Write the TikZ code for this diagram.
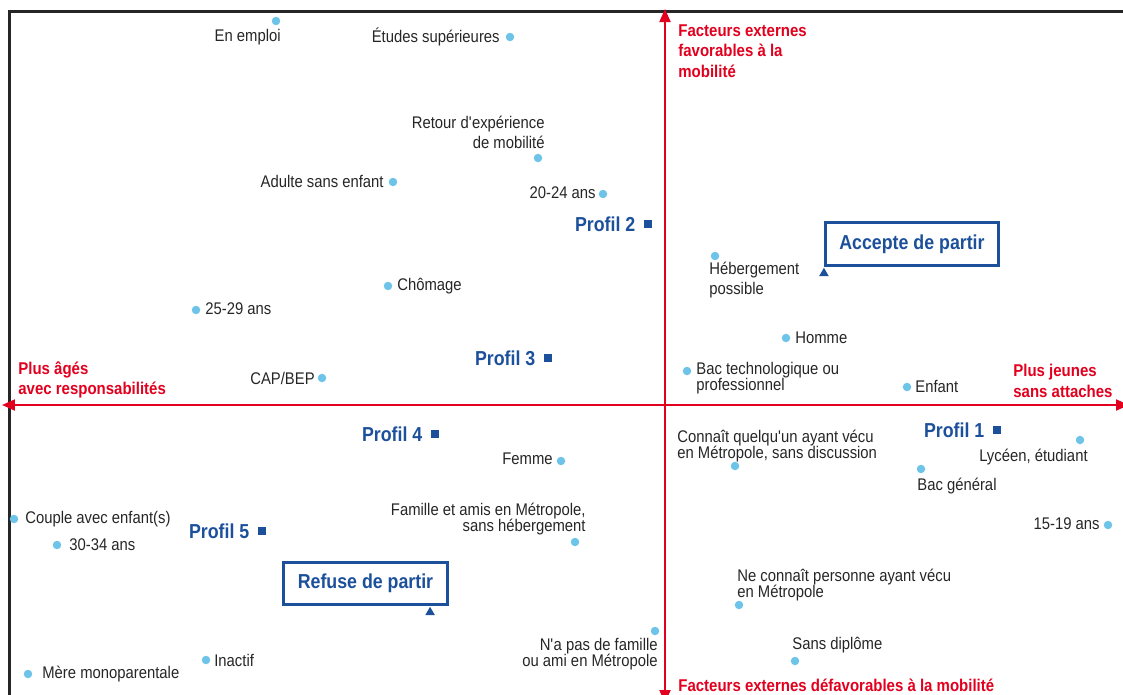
\documentclass[tikz,border=0pt]{standalone}
\usepackage{fontspec}
\setmainfont{Liberation Sans}[FakeStretch=0.88]
\usepackage{tikz}
\usetikzlibrary{arrows.meta,positioning,shapes.geometric}
\definecolor{AxisRed}{RGB}{226,0,30}
\definecolor{ProfBlue}{RGB}{28,80,155}
\definecolor{DotBlue}{RGB}{110,196,232}
\definecolor{LabelGray}{RGB}{38,38,38}

\begin{document}
\begin{tikzpicture}[
  x=0.02cm, y=-0.02cm,
  frame/.style={line width=1.4pt, black!85},
  axis/.style={{Triangle[length=0.26cm,width=0.22cm]}-{Triangle[length=0.26cm,width=0.22cm]}, line width=1.1pt, AxisRed},
  axlbl/.style={font=\fontsize{9.7}{11.8}\selectfont\bfseries, text=AxisRed, inner sep=0pt},
  pt/.style={circle, fill=DotBlue, minimum size=0.17cm, inner sep=0pt},
  lbl/.style={font=\fontsize{9.6}{9.4}\selectfont, text=LabelGray, inner sep=0pt},
  sq/.style={rectangle, fill=ProfBlue, minimum size=0.16cm, inner sep=0pt},
  prof/.style={font=\fontsize{11.5}{13}\selectfont\bfseries, text=ProfBlue, inner sep=0pt},
  verdict/.style={draw=ProfBlue, line width=1.8pt, fill=white, font=\fontsize{11.5}{13}\selectfont\bfseries, text=ProfBlue},
  tip/.style={regular polygon, regular polygon sides=3, fill=ProfBlue, minimum size=0.22cm, inner sep=0pt}
]
\useasboundingbox (0,0) rectangle (1123,694);
\draw[frame] (9.5,720) |- (1140,11.3);

\coordinate (west) at (2,405);
\coordinate (east) at (1129,405);
\coordinate (north) at (665,9);
\coordinate (south) at (665,703);
\draw[axis] (west) -- (east);
\draw[axis] (south) -- (north);

\node[axlbl, anchor=north west, align=left] (ax-fav) at (678,24) {Facteurs externes\\favorables à la\\mobilité};
\node[axlbl, anchor=west] (ax-defav) at (678,685) {Facteurs externes défavorables à la mobilité};
\node[axlbl, anchor=west, align=left] (ax-ages) at (18,380) {Plus âgés\\avec responsabilités};
\node[axlbl, anchor=west, align=left] (ax-jeunes) at (1013,381) {Plus jeunes\\sans attaches};

\node[pt] (d-emploi) at (276,21) {};
\node[pt] (d-etudes) at (510,37) {};
\node[pt] (d-retour) at (538,158) {};
\node[pt] (d-adulte) at (393,182) {};
\node[pt] (d-2024) at (603,194) {};
\node[pt] (d-heberg) at (715,256) {};
\node[pt] (d-chomage) at (388,286) {};
\node[pt] (d-2529) at (196,310) {};
\node[pt] (d-homme) at (786,338) {};
\node[pt] (d-bactech) at (687,371) {};
\node[pt] (d-enfant) at (907,387) {};
\node[pt] (d-cap) at (322,378) {};
\node[pt] (d-connait) at (735,466) {};
\node[pt] (d-lyceen) at (1080,440) {};
\node[pt] (d-bacgen) at (921,469) {};
\node[pt] (d-femme) at (561,461) {};
\node[pt] (d-famille) at (575,542) {};
\node[pt] (d-1519) at (1108,525) {};
\node[pt] (d-couple) at (14,519) {};
\node[pt] (d-3034) at (57,545) {};
\node[pt] (d-personne) at (739,605) {};
\node[pt] (d-nafam) at (655,631) {};
\node[pt] (d-sansdip) at (795,661) {};
\node[pt] (d-inactif) at (206,660) {};
\node[pt] (d-mere) at (28,674) {};

\node[lbl, anchor=east] (l-emploi) at (281,37) {En emploi};
\node[lbl, anchor=east] (l-etudes) at (500,37) {Études supérieures};
\node[lbl, anchor=east, align=right] (l-retour) at (545,132) {Retour d\textquotesingle{}expérience\\[2pt]de mobilité};
\node[lbl, anchor=east] (l-adulte) at (384,181) {Adulte sans enfant};
\node[lbl, anchor=east] (l-2024) at (596,193) {20-24 ans};
\node[lbl, anchor=west, align=left] (l-heberg) at (709,280) {Hébergement\\[2pt]possible};
\node[lbl, anchor=west] (l-chomage) at (397,286) {Chômage};
\node[lbl, anchor=west] (l-2529) at (205,309) {25-29 ans};
\node[lbl, anchor=west] (l-homme) at (795,338) {Homme};
\node[lbl, anchor=west, align=left] (l-bactech) at (696,378) {Bac technologique ou\\professionnel};
\node[lbl, anchor=west] (l-enfant) at (915,386) {Enfant};
\node[lbl, anchor=east] (l-cap) at (315,378) {CAP/BEP};
\node[lbl, anchor=east] (l-femme) at (553,459) {Femme};
\node[lbl, anchor=west, align=left] (l-connait) at (677,446) {Connaît quelqu\textquotesingle{}un ayant vécu\\en Métropole, sans discussion};
\node[lbl, anchor=east] (l-lyceen) at (1088,457) {Lycéen, étudiant};
\node[lbl, anchor=west] (l-bacgen) at (917,486) {Bac général};
\node[lbl, anchor=east, align=right] (l-famille) at (586,519) {Famille et amis en Métropole,\\sans hébergement};
\node[lbl, anchor=east] (l-1519) at (1100,524) {15-19 ans};
\node[lbl, anchor=west] (l-couple) at (25,519) {Couple avec enfant(s)};
\node[lbl, anchor=west] (l-3034) at (69,545) {30-34 ans};
\node[lbl, anchor=west, align=left] (l-personne) at (737,585) {Ne connaît personne ayant vécu\\en Métropole};
\node[lbl, anchor=east, align=right] (l-nafam) at (658,654) {N\textquotesingle{}a pas de famille\\ou ami en Métropole};
\node[lbl, anchor=west] (l-sansdip) at (792,645) {Sans diplôme};
\node[lbl, anchor=west] (l-inactif) at (214,660) {Inactif};
\node[lbl, anchor=west] (l-mere) at (42,674) {Mère monoparentale};

\node[sq] (p1) at (997,430) {};
\node[sq] (p2) at (648,224) {};
\node[sq] (p3) at (548,358) {};
\node[sq] (p4) at (435,434) {};
\node[sq] (p5) at (262,531) {};
\node[prof, left=0.16cm of p1] (p1-lbl) {Profil 1};
\node[prof, left=0.16cm of p2] (p2-lbl) {Profil 2};
\node[prof, left=0.16cm of p3] (p3-lbl) {Profil 3};
\node[prof, left=0.16cm of p4] (p4-lbl) {Profil 4};
\node[prof, left=0.16cm of p5] (p5-lbl) {Profil 5};

\node[verdict, minimum width=3.46cm, minimum height=0.86cm] (accept) at (912,244) {Accepte de partir};
\node[verdict, minimum width=3.28cm, minimum height=0.84cm] (refuse) at (365.5,583.5) {Refuse de partir};
\node[tip, anchor=corner 1] (accept-tip) at (accept.south west) {};
\node[tip, anchor=corner 1] (refuse-tip) at ([xshift=-0.38cm]refuse.south east) {};
\end{tikzpicture}
\end{document}
